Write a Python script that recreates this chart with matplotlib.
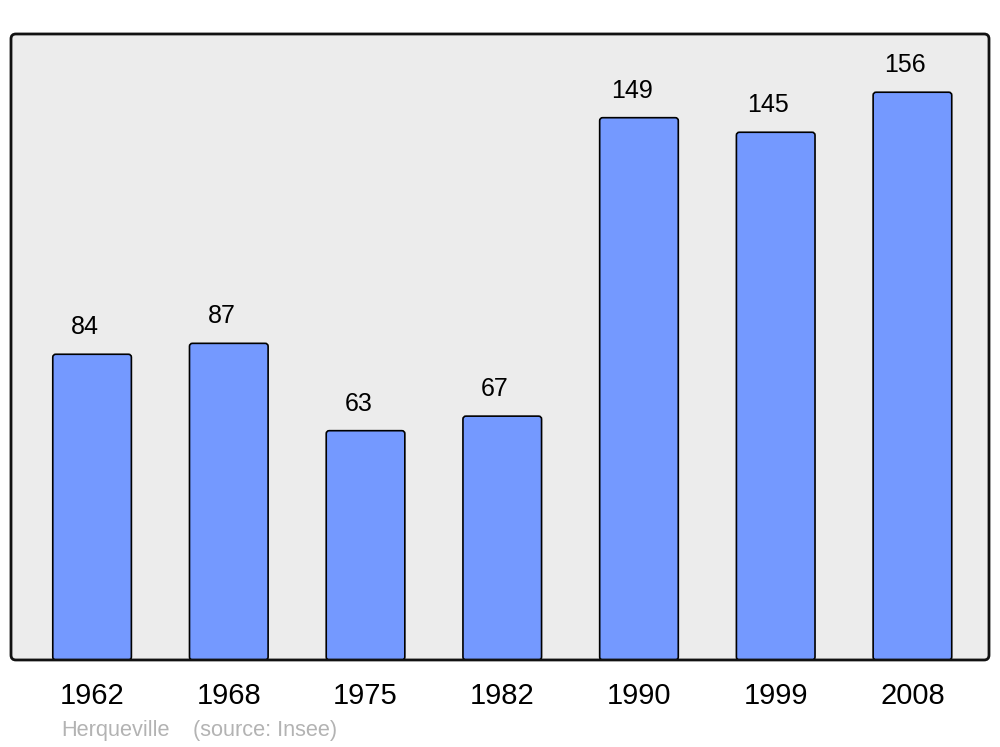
import matplotlib
matplotlib.use('Agg')
import matplotlib.pyplot as plt
from matplotlib.patches import FancyBboxPatch

years = ['1962', '1968', '1975', '1982', '1990', '1999', '2008']
population = [84, 87, 63, 67, 149, 145, 156]

plt.rcParams['font.family'] = ['Liberation Sans', 'DejaVu Sans']

fig = plt.figure(figsize=(10, 7.47), dpi=100)
ax = fig.add_axes([0.011, 0.1165, 0.978, 0.838])
ax.patch.set_visible(False)
for s in ax.spines.values():
    s.set_visible(False)

x = range(len(years))
bars = ax.bar(x, population, width=0.575, color='#7499ff', edgecolor='black', linewidth=1.2)
ax.set_xlim(-0.593, 6.56)
ax.set_ylim(0, 172)

# rounded bar corners
aspect = (978 / 7.153) / (626 / 172)
for rect in bars:
    bx, by = rect.get_xy()
    fb = FancyBboxPatch((bx, by), rect.get_width(), rect.get_height(),
                        boxstyle='round,pad=0,rounding_size=0.022', mutation_aspect=aspect,
                        facecolor='#7499ff', edgecolor='black', linewidth=1.2, zorder=2)
    ax.add_patch(fb)
    rect.set_visible(False)

for i, v in enumerate(population):
    ax.annotate(str(v), (i, v), xytext=(-5.2, 14.5), textcoords='offset points',
                ha='center', va='baseline', fontsize=18)

ax.set_xticks(list(x))
ax.set_xticklabels(years, fontsize=21)
ax.tick_params(axis='x', length=0, pad=16)
ax.set_yticks([])

# plot frame with rounded corners
bg = FancyBboxPatch((0, 0), 1, 1, boxstyle='round,pad=0,rounding_size=0.005',
                    mutation_aspect=978 / 626, transform=ax.transAxes,
                    facecolor='#ececec', edgecolor='none', zorder=0, clip_on=False)
ax.add_patch(bg)
frame = FancyBboxPatch((0, 0), 1, 1, boxstyle='round,pad=0,rounding_size=0.005',
                       mutation_aspect=978 / 626, transform=ax.transAxes,
                       facecolor='none', edgecolor='#111111', linewidth=2.0, zorder=5, clip_on=False)
ax.add_patch(frame)

fig.text(0.061, 0.0225, 'Herqueville', color='#b3b3b3', fontsize=15.7, va='center')
fig.text(0.193, 0.0225, '(source: Insee)', color='#b3b3b3', fontsize=15.7, va='center')

fig.savefig('out.png', dpi=100)
